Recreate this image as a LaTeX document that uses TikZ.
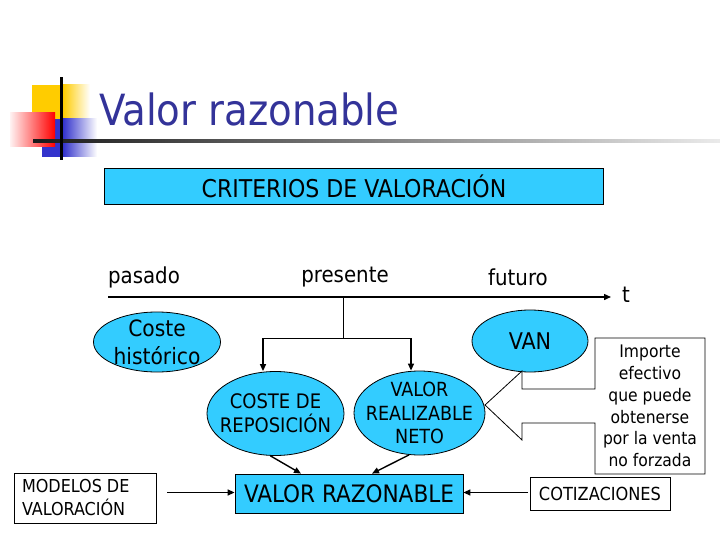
\documentclass[tikz,border=0pt]{standalone}
\usepackage{fontspec}
\setmainfont{DejaVu Sans Condensed}
\usetikzlibrary{arrows.meta,shapes.geometric}
\definecolor{boxblue}{HTML}{33CCFF}
\definecolor{titleblue}{HTML}{333399}
\definecolor{decoyellow}{HTML}{FFCC00}
\definecolor{decoblue}{HTML}{3333CC}
\definecolor{decored}{HTML}{FF0000}
\tikzset{
  arr/.style={line width=1.4pt,-{Triangle[length=7pt,width=6pt]}},
  bluebox/.style={draw=black,line width=0.8pt,fill=boxblue,inner sep=0pt},
  whitebox/.style={draw=black,line width=0.8pt,fill=white,inner sep=0pt},
  blueell/.style={ellipse,draw=black,line width=0.8pt,fill=boxblue,inner sep=0pt},
  etext/.style={inner sep=0pt,align=center},
  lbl/.style={inner sep=0pt,font=\fontsize{22}{26}\selectfont}
}
\begin{document}
\begin{tikzpicture}[x=1pt,y=-1pt]
\useasboundingbox (0,0) rectangle (720,540);
% title decoration
\fill[decoyellow] (32,85) rectangle (63,135);
\shade[left color=decoyellow,right color=white] (63,85) rectangle (90,135);
\fill[decoblue] (42,119) rectangle (63,157);
\shade[left color=decoblue,right color=white] (63,119) rectangle (97,157);
\shade[left color=decored!5,right color=decored] (10,113) rectangle (55,147);
\shade[left color=black!90,right color=black!8] (33,139.5) rectangle (720,142.5);
\fill[black] (59.5,77) rectangle (62.5,160);
\node[anchor=base west,inner sep=0pt,text=titleblue,font=\fontsize{43}{48}\selectfont] (title) at (99,126) {Valor razonable};
% criterios
\node[bluebox,minimum width=499pt,minimum height=36pt,font=\fontsize{24.5}{28}\selectfont] (crit) at (354,186) {CRITERIOS DE VALORACIÓN};
% timeline
\node[lbl] (pas) at (144,277) {pasado};
\node[lbl] (pre) at (345,277) {presente};
\node[lbl] (fut) at (518,277) {futuro};
\node[lbl] (t) at (626,295) {t};
\coordinate (tl0) at (108,297);
\coordinate (tl1) at (611,297);
\draw[arr] (tl0) -- (tl1);
\coordinate (tlp) at (343,297);
\coordinate (brc) at (343,338);
\coordinate (br1) at (263,338);
\coordinate (br2) at (411,338);
% ellipses
\node[blueell,minimum width=127pt,minimum height=60pt] (ch) at (157,342) {};
\node[etext,font=\fontsize{22.5}{28}\selectfont] (cht) at (ch) {Coste\\histórico};
\node[blueell,minimum width=116pt,minimum height=62pt] (van) at (530,341) {};
\node[etext,font=\fontsize{23}{26}\selectfont] (vant) at (van) {VAN};
\node[blueell,minimum width=137pt,minimum height=84pt] (cr) at (275.5,413.5) {};
\node[etext,font=\fontsize{20}{24}\selectfont] (crt) at (cr) {COSTE DE\\REPOSICIÓN};
\node[blueell,minimum width=131pt,minimum height=84pt] (vr) at (419.5,413) {};
\node[etext,font=\fontsize{19.5}{23.5}\selectfont] (vrt) at (vr) {VALOR\\REALIZABLE\\NETO};
\draw[line width=0.8pt] (tlp) -- (brc);
\draw[line width=0.8pt] (br1) -- (br2);
\draw[arr] (br1) -- (br1 |- cr.north);
\draw[arr] (br2) -- (br2 |- vr.north);
% callout
\coordinate (tip) at (485,405);
\filldraw[draw=black,line width=0.8pt,fill=white] (595,338) -- (705,338) -- (705,474) -- (595,474) -- (595,423) -- (522,423) -- (522,440) -- (tip) -- (522,371) -- (522,389) -- (595,389) -- cycle;
\node[inner sep=0pt,align=center,font=\fontsize{17.3}{21.8}\selectfont] (imp) at (650,406) {Importe\\efectivo\\que puede\\obtenerse\\por la venta\\no forzada};
% bottom row
\node[bluebox,minimum width=228pt,minimum height=39pt,font=\fontsize{24}{28}\selectfont] (vrz) at (349,493.5) {VALOR RAZONABLE};
\node[whitebox,minimum width=142pt,minimum height=50pt,align=left,font=\fontsize{17.8}{23}\selectfont] (mod) at (85,498) {\parbox{126pt}{MODELOS DE\\VALORACIÓN}};
\node[whitebox,minimum width=140pt,minimum height=33pt,font=\fontsize{18}{21}\selectfont] (cot) at (600,493.5) {COTIZACIONES};
\draw[arr] (cr.-97) -- (vrz.north -| 301,0);
\draw[arr] (vr.-104) -- (vrz.north -| 372,0);
\coordinate (m1) at (167,492.5);
\coordinate (c1) at (528,492.5);
\draw[arr] (m1) -- (m1 -| vrz.west) ;
\draw[arr] (c1) -- (c1 -| vrz.east);
\end{tikzpicture}
\end{document}
